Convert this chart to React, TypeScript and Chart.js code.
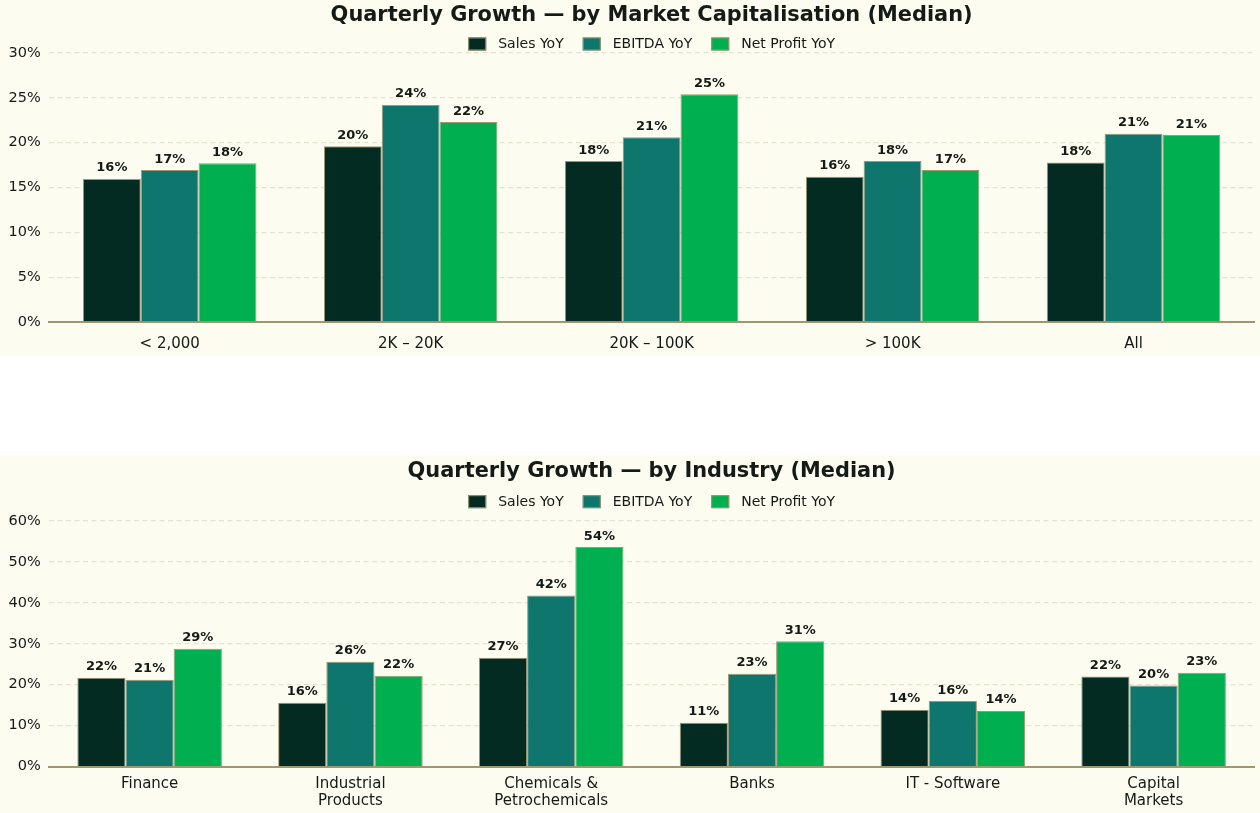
import { useEffect, useRef } from "react";
import { Chart, registerables } from "chart.js";
import type { ChartConfiguration, Plugin } from "chart.js";

Chart.register(...registerables);

// Data
const seriesNames = ["Sales YoY", "EBITDA YoY", "Net Profit YoY"];
const seriesColors = ["#032b22", "#0f766e", "#00b050"];

const capCategories = ["< 2,000", "2K – 20K", "20K – 100K", "> 100K", "All"];
const capSales = [15.95, 19.6, 17.95, 16.2, 17.8];
const capEbitda = [16.95, 24.2, 20.6, 17.95, 21.0];
const capProfit = [17.7, 22.3, 25.4, 16.95, 20.85];
const capMax = 30;
const capStep = 5;

const industryCategories = [
  "Finance",
  ["Industrial", "Products"],
  ["Chemicals &", "Petrochemicals"],
  "Banks",
  "IT - Software",
  ["Capital", "Markets"],
];
const industrySales = [21.7, 15.6, 26.6, 10.7, 13.9, 22.0];
const industryEbitda = [21.2, 25.6, 41.8, 22.7, 16.0, 19.8];
const industryProfit = [28.8, 22.2, 53.6, 30.6, 13.6, 22.9];
const industryMax = 62.5;
const industryStep = 10;

const FONT = "'DejaVu Sans', sans-serif";
const TEXT = "#141a16";
const KHAKI = "#a0966f";
const BG = "#fcfcf0";

// Draws the rounded percentage above each bar
const valueLabels: Plugin<"bar"> = {
  id: "valueLabels",
  afterDatasetsDraw(chart) {
    const { ctx } = chart;
    ctx.save();
    ctx.font = `bold 13px ${FONT}`;
    ctx.fillStyle = TEXT;
    ctx.textAlign = "center";
    ctx.textBaseline = "alphabetic";
    chart.data.datasets.forEach((ds, i) => {
      const meta = chart.getDatasetMeta(i);
      meta.data.forEach((bar, j) => {
        const v = ds.data[j] as number;
        ctx.fillText(`${Math.round(v)}%`, bar.x, bar.y - 7.5);
      });
    });
    ctx.restore();
  },
};

// Legend row centred over the plot, just above it
const legendRow: Plugin<"bar"> = {
  id: "legendRow",
  afterDraw(chart) {
    const { ctx, chartArea } = chart;
    const boxW = 18;
    const boxH = 13;
    const textGap = 12;
    const itemGap = 19;
    ctx.save();
    ctx.font = `14px ${FONT}`;
    const items = chart.data.datasets.map((ds) => ({
      text: ds.label ?? "",
      color: ds.backgroundColor as string,
      w: ctx.measureText(ds.label ?? "").width,
    }));
    const total =
      items.reduce((s, it) => s + boxW + textGap + it.w, 0) + itemGap * (items.length - 1);
    let x = (chartArea.left + chartArea.right) / 2 - total / 2;
    const cy = chartArea.top - 9;
    ctx.textBaseline = "middle";
    ctx.textAlign = "left";
    items.forEach((it) => {
      ctx.fillStyle = it.color;
      ctx.fillRect(x, cy - boxH / 2, boxW, boxH);
      ctx.strokeStyle = KHAKI;
      ctx.lineWidth = 1;
      ctx.strokeRect(x + 0.5, cy - boxH / 2 + 0.5, boxW - 1, boxH - 1);
      ctx.fillStyle = TEXT;
      ctx.fillText(it.text, x + boxW + textGap, cy + 0.5);
      x += boxW + textGap + it.w + itemGap;
    });
    ctx.restore();
  },
};

type GroupChartProps = {
  title: string;
  labels: (string | string[])[];
  values: number[][];
  max: number;
  step: number;
  height: number;
  titleTop: number;
  titleBottom: number;
  tickPad: number;
  tickLineHeight: number;
  bottomPad: number;
};

function GroupChart(props: GroupChartProps) {
  const { title, labels, values, max, step, height } = props;
  const canvasRef = useRef<HTMLCanvasElement | null>(null);

  useEffect(() => {
    if (!canvasRef.current) return;

    const config: ChartConfiguration<"bar", number[], string | string[]> = {
      type: "bar",
      data: {
        labels,
        datasets: values.map((vals, i) => ({
          label: seriesNames[i],
          data: vals,
          backgroundColor: seriesColors[i],
          borderColor: KHAKI,
          borderWidth: 1,
          categoryPercentage: 0.72,
          barPercentage: 1,
        })),
      },
      options: {
        animation: false,
        responsive: true,
        maintainAspectRatio: false,
        layout: { padding: { left: 0, right: 6, top: 0, bottom: props.bottomPad } },
        plugins: {
          title: {
            display: true,
            text: title,
            fullSize: false,
            color: TEXT,
            font: { family: FONT, size: 20.9, weight: "bold" },
            padding: { top: props.titleTop, bottom: props.titleBottom },
          },
          legend: { display: false },
          tooltip: { enabled: false },
        },
        scales: {
          x: {
            grid: { display: false, drawTicks: false },
            border: { display: true, color: KHAKI, width: 2 },
            ticks: {
              color: TEXT,
              font: { family: FONT, size: 15, lineHeight: props.tickLineHeight },
              padding: props.tickPad,
              maxRotation: 0,
            },
          },
          y: {
            min: 0,
            max,
            afterBuildTicks: (scale) => {
              const ticks = [];
              for (let v = 0; v <= max; v += step) ticks.push({ value: v });
              scale.ticks = ticks;
            },
            grid: { color: "#e6e2cf", lineWidth: 1.3, drawTicks: false },
            border: { display: false, dash: [5, 3.5] },
            ticks: {
              color: TEXT,
              font: { family: FONT, size: 14.5 },
              padding: 8.5,
              callback: (v) => `${v}%`,
            },
          },
        },
      },
      plugins: [valueLabels, legendRow],
    };

    const chart = new Chart(canvasRef.current, config);
    return () => {
      chart.destroy();
    };
  }, [title, labels, values, max, step]);

  return (
    <div style={{ position: "relative", width: 1260, height, background: BG }}>
      <canvas ref={canvasRef} />
    </div>
  );
}

export default function App() {
  return (
    <div style={{ position: "absolute", top: 0, left: 0, width: 1260, background: "#fff" }}>
      <GroupChart
        title="Quarterly Growth — by Market Capitalisation (Median)"
        labels={capCategories}
        values={[capSales, capEbitda, capProfit]}
        max={capMax}
        step={capStep}
        height={356}
        titleTop={3.5}
        titleBottom={24.4}
        tickPad={13}
        tickLineHeight={1.2}
        bottomPad={-10}
      />
      <div style={{ height: 99 }} />
      <GroupChart
        title="Quarterly Growth — by Industry (Median)"
        labels={industryCategories}
        values={[industrySales, industryEbitda, industryProfit]}
        max={industryMax}
        step={industryStep}
        height={358}
        titleTop={3.9}
        titleBottom={26.7}
        tickPad={8.4}
        tickLineHeight={1.15}
        bottomPad={-4.9}
      />
    </div>
  );
}
